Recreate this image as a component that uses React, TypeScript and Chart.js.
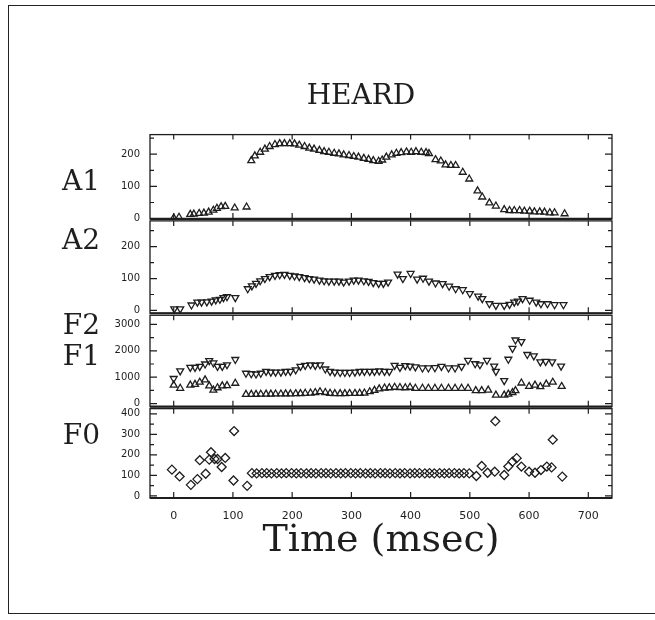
import React, { useEffect, useRef } from "react";
import { Chart, registerables } from "chart.js";

Chart.register(...registerables);

// ---------- data ----------
const chartTitle = "HEARD";
const xAxisTitle = "Time (msec)";
const xTicks = [0, 100, 200, 300, 400, 500, 600, 700];
const a1Ticks = [0, 100, 200];
const a2Ticks = [0, 100, 200];
const fTicks = [0, 1000, 2000, 3000];
const f0Ticks = [0, 100, 200, 300, 400];

const a1Time = [0, 9, 28, 34, 43, 51, 59, 67, 73, 80, 87, 103, 123, 131, 137, 146, 154, 162, 171, 179, 187, 196, 204, 212, 221, 229, 237, 246, 254, 262, 271, 279, 287, 296, 304, 312, 321, 329, 337, 346, 352, 359, 368, 376, 384, 393, 401, 409, 418, 426, 431, 442, 451, 459, 468, 476, 488, 499, 513, 521, 533, 544, 558, 567, 575, 584, 592, 601, 609, 618, 626, 635, 643, 660];
const a1Values = [2, 4, 13, 14, 16, 17, 20, 26, 32, 37, 38, 33, 36, 180, 195, 206, 216, 224, 230, 233, 233, 233, 232, 228, 224, 219, 216, 212, 208, 206, 203, 201, 198, 196, 193, 191, 187, 184, 180, 178, 182, 191, 198, 203, 205, 207, 206, 208, 206, 205, 202, 183, 179, 167, 165, 165, 144, 123, 86, 67, 49, 39, 28, 25, 25, 25, 23, 23, 21, 21, 20, 18, 18, 15];

const a2Time = [1, 11, 30, 40, 47, 56, 64, 71, 78, 84, 90, 104, 125, 132, 139, 146, 154, 162, 171, 179, 187, 196, 204, 212, 221, 229, 237, 246, 254, 262, 271, 279, 287, 296, 304, 312, 321, 329, 337, 346, 354, 362, 378, 387, 400, 411, 421, 431, 442, 454, 465, 476, 488, 500, 514, 521, 533, 544, 558, 567, 575, 581, 589, 601, 612, 620, 631, 643, 658];
const a2Values = [5, 5, 17, 26, 26, 27, 29, 33, 35, 40, 43, 40, 68, 77, 85, 93, 100, 106, 110, 112, 113, 110, 108, 106, 103, 100, 98, 95, 93, 92, 92, 92, 89, 92, 95, 95, 93, 91, 87, 85, 85, 89, 114, 100, 116, 98, 101, 92, 86, 84, 76, 68, 65, 53, 45, 37, 21, 16, 16, 19, 26, 29, 37, 32, 26, 21, 21, 18, 18];

const f2Time = [0, 11, 28, 36, 44, 53, 60, 67, 74, 82, 90, 104, 122, 131, 139, 147, 156, 164, 172, 181, 189, 197, 206, 214, 222, 231, 239, 247, 256, 264, 272, 281, 289, 297, 306, 314, 322, 331, 339, 347, 356, 364, 373, 382, 391, 399, 408, 420, 430, 441, 452, 464, 475, 486, 497, 509, 517, 529, 541, 544, 558, 565, 572, 577, 587, 597, 608, 619, 628, 639, 654];
const f2Values = [950, 1240, 1370, 1370, 1410, 1500, 1630, 1540, 1410, 1410, 1470, 1670, 1150, 1130, 1120, 1150, 1220, 1190, 1190, 1190, 1220, 1220, 1280, 1410, 1450, 1470, 1450, 1470, 1310, 1220, 1190, 1180, 1180, 1180, 1190, 1220, 1220, 1220, 1220, 1240, 1220, 1220, 1450, 1370, 1440, 1420, 1390, 1350, 1350, 1360, 1410, 1350, 1350, 1410, 1640, 1510, 1470, 1640, 1420, 1220, 870, 1680, 2090, 2410, 2350, 1860, 1810, 1580, 1600, 1580, 1420];

const f1Time = [0, 11, 28, 36, 44, 53, 60, 67, 74, 82, 90, 104, 122, 131, 139, 147, 156, 164, 172, 181, 189, 197, 206, 214, 222, 231, 239, 247, 256, 264, 272, 281, 289, 297, 306, 314, 322, 331, 339, 347, 356, 364, 373, 382, 391, 399, 408, 420, 430, 441, 452, 464, 475, 486, 497, 510, 520, 531, 544, 558, 565, 572, 577, 587, 600, 610, 619, 629, 640, 655];
const f1Values = [700, 580, 700, 730, 810, 900, 670, 510, 600, 670, 680, 770, 350, 350, 350, 355, 360, 360, 365, 365, 370, 370, 375, 380, 390, 400, 420, 450, 420, 390, 380, 380, 380, 385, 385, 390, 400, 450, 500, 560, 590, 600, 620, 610, 600, 620, 580, 580, 580, 580, 580, 580, 580, 580, 580, 490, 490, 510, 320, 320, 360, 420, 490, 780, 650, 700, 640, 740, 810, 650];

const f0Time = [-3, 10, 29, 40, 44, 54, 60, 63, 69, 74, 81, 87, 101, 102, 124, 132, 140, 149, 157, 165, 174, 182, 190, 199, 207, 215, 224, 232, 240, 249, 257, 265, 274, 282, 290, 299, 307, 315, 324, 332, 340, 349, 357, 365, 374, 382, 390, 399, 407, 415, 424, 432, 440, 449, 457, 465, 474, 482, 490, 499, 511, 520, 530, 542, 543, 558, 565, 572, 579, 587, 600, 610, 620, 630, 638, 640, 656];
const f0Values = [128, 95, 54, 82, 174, 108, 177, 213, 180, 180, 141, 185, 75, 316, 49,
  111, 110, 111, 111, 110, 111, 110, 111, 111, 110,
  111, 110, 111, 110, 111, 111, 110, 111, 110, 111,
  111, 110, 111, 110, 111, 110, 111, 111, 110, 111,
  110, 111, 110, 111, 111, 110, 111, 110, 111, 110,
  111, 111, 110, 111, 110,
  97, 146, 113, 118, 364, 102, 143, 167, 184, 143, 118, 113, 126, 143, 139, 274, 94];

const panelLabels = [
  { text: "A1", axis: "yA1", at: 110 },
  { text: "A2", axis: "yA2", at: 215 },
  { text: "F2", axis: "yF", at: 2900 },
  { text: "F1", axis: "yF", at: 1750 },
  { text: "F0", axis: "yF0", at: 290 },
];

// ---------- helpers ----------
const INK = "#1e1e1e";
const zip = (t: number[], v: number[]) =>
  t.slice(0, Math.min(t.length, v.length)).map((x, i) => ({ x, y: v[i] }));
const fixedTicks = (vals: number[]) => (scale: any) => {
  scale.ticks = vals.map((value) => ({ value }));
};

const panelPlugin = {
  id: "panelFrames",
  afterDatasetsDraw(chart: any) {
    const { ctx, chartArea } = chart;
    const xs = chart.scales.x;
    const L = chartArea.left;
    const R = chartArea.right;
    ctx.save();
    ctx.strokeStyle = INK;
    ["yA1", "yA2", "yF", "yF0"].forEach((id) => {
      const s = chart.scales[id];
      const top = s.top + 1;
      const bot = s.bottom - 1;
      ctx.lineWidth = 1.3;
      ctx.strokeRect(L, top, R - L, bot - top);
      ctx.lineWidth = 2.2;
      ctx.beginPath();
      ctx.moveTo(L, bot);
      ctx.lineTo(R, bot);
      ctx.stroke();
      ctx.lineWidth = 1.2;
      ctx.beginPath();
      xs.ticks.forEach((t: any) => {
        const px = xs.getPixelForValue(t.value);
        ctx.moveTo(px, bot);
        ctx.lineTo(px, bot - 6);
        ctx.moveTo(px, top);
        ctx.lineTo(px, top + 5);
      });
      const vals = s.ticks.map((t: any) => t.value);
      const step = vals[1] - vals[0];
      const minors = new Set<number>();
      vals.forEach((v: number) => {
        const py = s.getPixelForValue(v);
        ctx.moveTo(L, py);
        ctx.lineTo(L + 7, py);
        ctx.moveTo(R, py);
        ctx.lineTo(R - 7, py);
        minors.add(v - step / 2);
        minors.add(v + step / 2);
      });
      minors.forEach((m) => {
        if (m > s.min && m < s.max) {
          const py = s.getPixelForValue(m);
          ctx.moveTo(L, py);
          ctx.lineTo(L + 4, py);
          ctx.moveTo(R, py);
          ctx.lineTo(R - 4, py);
        }
      });
      ctx.stroke();
    });
    ctx.fillStyle = INK;
    ctx.font = '28px "DejaVu Serif"';
    ctx.textAlign = "right";
    ctx.textBaseline = "middle";
    panelLabels.forEach((p) => {
      const s = chart.scales[p.axis];
      ctx.fillText(p.text, L - 50, s.getPixelForValue(p.at));
    });
    ctx.restore();
  },
};

const tickFont = { family: "DejaVu Sans", size: 10 };
const yScale = (min: number, max: number, weight: number, ticks: number[]) => ({
  type: "linear",
  position: "left",
  stack: "panels",
  stackWeight: weight,
  min,
  max,
  afterBuildTicks: fixedTicks(ticks),
  afterFit: (s: any) => {
    s.width = 40;
  },
  grid: { display: false },
  border: { display: false },
  ticks: { color: INK, font: tickFont, padding: 2, callback: (v: any) => String(v) },
});

const pointDs = (label: string, data: any[], axis: string, style: string, rotation: number, radius: number) => ({
  label,
  data,
  yAxisID: axis,
  showLine: false,
  pointStyle: style,
  pointRotation: rotation,
  pointRadius: radius,
  pointBorderWidth: 1.3,
  borderColor: INK,
  backgroundColor: "rgba(0,0,0,0)",
  pointBackgroundColor: "rgba(0,0,0,0)",
  pointBorderColor: INK,
});

export default function App() {
  const ref = useRef<HTMLCanvasElement | null>(null);
  useEffect(() => {
    if (!ref.current) return;
    const chart = new Chart(ref.current, {
      type: "scatter",
      data: {
        datasets: [
          pointDs("A1", zip(a1Time, a1Values), "yA1", "triangle", 0, 4),
          pointDs("A2", zip(a2Time, a2Values), "yA2", "triangle", 180, 4),
          pointDs("F2", zip(f2Time, f2Values), "yF", "triangle", 180, 4),
          pointDs("F1", zip(f1Time, f1Values), "yF", "triangle", 0, 4),
          pointDs("F0", zip(f0Time, f0Values), "yF0", "rectRot", 0, 4.5),
        ] as any,
      },
      options: {
        responsive: false,
        animation: false,
        events: [],
        layout: { padding: { left: 110, right: 43, top: 0, bottom: 56 } },
        plugins: {
          legend: { display: false },
          tooltip: { enabled: false },
          title: {
            display: true,
            text: chartTitle,
            color: INK,
            font: { family: "DejaVu Serif", size: 28, weight: "normal" },
            padding: { top: 80, bottom: 20 },
          },
        },
        scales: {
          x: {
            type: "linear",
            position: "bottom",
            min: -40,
            max: 740,
            afterBuildTicks: fixedTicks(xTicks),
            afterFit: (s: any) => {
              s.height = 65;
            },
            grid: { display: false },
            border: { display: false },
            ticks: { color: INK, font: { family: "DejaVu Sans", size: 11 }, padding: 3, callback: (v: any) => String(v) },
            title: {
              display: true,
              text: xAxisTitle,
              color: INK,
              font: { family: "DejaVu Serif", size: 38, weight: "normal" },
              padding: { top: 0, bottom: 0 },
            },
          },
          yF0: yScale(-15, 430, 90, f0Ticks),
          yF: yScale(-154, 3385, 92, fTicks),
          yA2: yScale(-12, 284, 93, a2Ticks),
          yA1: yScale(-4, 264, 85, a1Ticks),
        } as any,
      },
      plugins: [panelPlugin],
    });
    return () => chart.destroy();
  }, []);

  return (
    <div style={{ position: "fixed", left: 0, top: 0, width: 655, height: 620, background: "#fff", overflow: "hidden" }}>
      <div
        style={{
          position: "absolute",
          left: 8,
          top: 5,
          width: 700,
          height: 607,
          borderLeft: "1.5px solid #222",
          borderTop: "1.5px solid #222",
          borderBottom: "1.5px solid #222",
        }}
      />
      <canvas ref={ref} width={655} height={620} style={{ position: "absolute", left: 0, top: 0, width: 655, height: 620 }} />
    </div>
  );
}
